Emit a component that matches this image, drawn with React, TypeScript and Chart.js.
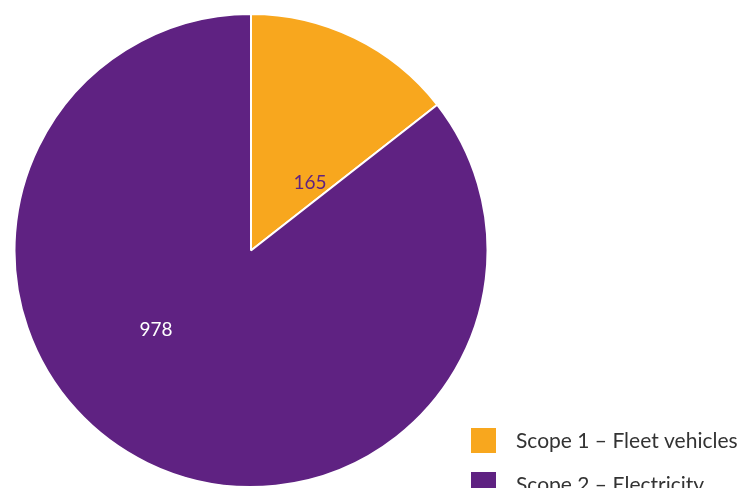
import React, { useEffect, useRef } from "react";
import { Chart, registerables } from "chart.js";

Chart.register(...registerables);

const categories = ["Scope 1 – Fleet vehicles", "Scope 2 – Electricity"];
const values = [165, 978];
const colors = ["#F8A71E", "#5F2282"];
const labelColors = ["#5F2282", "#FFFFFF"];
const labelRadius = [0.38, 0.525];
const labelAngleShiftDeg = [15, 24];

const sliceLabels = {
  id: "sliceLabels",
  afterDatasetsDraw(chart: any) {
    const ctx = chart.ctx;
    const meta = chart.getDatasetMeta(0);
    ctx.save();
    ctx.font = '19px "Lato", "Open Sans", sans-serif';
    ctx.textAlign = "center";
    ctx.textBaseline = "middle";
    meta.data.forEach((arc: any, i: number) => {
      const p = arc.getProps(["x", "y", "startAngle", "endAngle", "outerRadius"], true);
      const mid = (p.startAngle + p.endAngle) / 2 + (labelAngleShiftDeg[i] * Math.PI) / 180;
      const r = p.outerRadius * labelRadius[i];
      ctx.fillStyle = labelColors[i];
      ctx.fillText(String(chart.data.datasets[0].data[i]), p.x + Math.cos(mid) * r, p.y + Math.sin(mid) * r);
    });
    ctx.restore();
  },
};

const cornerLegend = {
  id: "cornerLegend",
  afterDraw(chart: any) {
    const ctx = chart.ctx;
    const boxX = 471;
    const boxSize = 25;
    const firstTop = 428;
    const rowGap = 44;
    ctx.save();
    ctx.font = '21px "Lato", "Open Sans", sans-serif';
    ctx.textAlign = "left";
    ctx.textBaseline = "middle";
    chart.data.labels.forEach((lab: string, i: number) => {
      const top = firstTop + i * rowGap;
      ctx.fillStyle = chart.data.datasets[0].backgroundColor[i];
      ctx.fillRect(boxX, top, boxSize, boxSize);
      ctx.fillStyle = "#333333";
      ctx.fillText(lab, 516, top + boxSize / 2 + 1);
    });
    ctx.restore();
  },
};

export default function App() {
  const ref = useRef<HTMLCanvasElement | null>(null);
  useEffect(() => {
    if (!ref.current) return;
    const chart = new Chart(ref.current, {
      type: "pie",
      data: {
        labels: categories,
        datasets: [
          {
            data: values,
            backgroundColor: colors,
            borderColor: "#FFFFFF",
            borderWidth: 2,
            hoverOffset: 0,
            offset: 0,
          },
        ],
      },
      options: {
        animation: false,
        responsive: false,
        maintainAspectRatio: false,
        layout: { padding: { left: 13, top: 13, right: 248, bottom: 0 } },
        plugins: {
          legend: { display: false },
          tooltip: { enabled: false },
        },
      },
      plugins: [sliceLabels, cornerLegend],
    });
    return () => chart.destroy();
  }, []);
  return (
    <div style={{ position: "fixed", left: 0, top: 0, width: 737, height: 488, background: "#fff" }}>
      <canvas ref={ref} width={737} height={488} />
    </div>
  );
}
